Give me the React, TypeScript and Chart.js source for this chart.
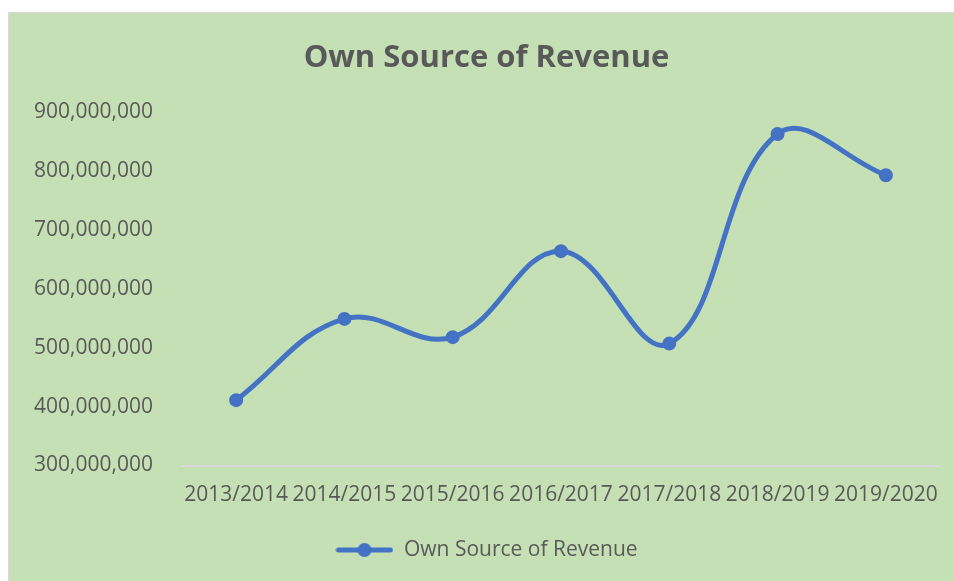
import React, { useEffect, useRef } from "react";
import { Chart, registerables } from "chart.js";

Chart.register(...registerables);

const TITLE = "Own Source of Revenue";
const SERIES_NAME = "Own Source of Revenue";
const CATEGORIES = ["2013/2014", "2014/2015", "2015/2016", "2016/2017", "2017/2018", "2018/2019", "2019/2020"];
const REVENUE = [411000000, 549000000, 518000000, 664000000, 507000000, 863000000, 793000000];
const Y_MIN = 300000000;
const Y_MAX = 900000000;
const Y_STEP = 100000000;

const LINE_COLOR = "#4472C4";
const TEXT_COLOR = "#595959";
const BG = "#C5E0B4";
const FONT = "'Open Sans', 'DejaVu Sans', sans-serif";

function makeLegendIcon(): HTMLCanvasElement {
  const c = document.createElement("canvas");
  c.width = 58;
  c.height = 16;
  const ctx = c.getContext("2d")!;
  ctx.strokeStyle = LINE_COLOR;
  ctx.lineWidth = 5;
  ctx.lineCap = "round";
  ctx.beginPath();
  ctx.moveTo(3, 8);
  ctx.lineTo(55, 8);
  ctx.stroke();
  ctx.fillStyle = LINE_COLOR;
  ctx.beginPath();
  ctx.arc(29, 8, 7, 0, Math.PI * 2);
  ctx.fill();
  return c;
}

export default function App() {
  const ref = useRef<HTMLCanvasElement | null>(null);

  useEffect(() => {
    if (!ref.current) return;
    const icon = makeLegendIcon();
    const chart = new Chart(ref.current, {
      type: "line",
      data: {
        labels: CATEGORIES,
        datasets: [
          {
            label: SERIES_NAME,
            data: REVENUE,
            borderColor: LINE_COLOR,
            backgroundColor: LINE_COLOR,
            borderWidth: 5,
            tension: 0.4,
            pointRadius: 6,
            pointBorderWidth: 2,
            pointBorderColor: LINE_COLOR,
            pointBackgroundColor: LINE_COLOR,
            pointStyle: "circle",
            borderCapStyle: "round",
          },
        ],
      },
      options: {
        animation: false,
        responsive: false,
        maintainAspectRatio: false,
        layout: { padding: { left: 24, right: 14, top: 0, bottom: 10.5 } },
        plugins: {
          title: {
            display: true,
            text: TITLE,
            color: TEXT_COLOR,
            font: { family: FONT, size: 31, weight: "bold" },
            padding: { top: 27, bottom: 35 },
          },
          legend: {
            display: true,
            position: "bottom",
            labels: {
              color: TEXT_COLOR,
              font: { family: FONT, size: 21 },
              usePointStyle: true,
              pointStyleWidth: 58,
              boxHeight: 16,
              padding: 10,
              generateLabels: () => [
                {
                  text: SERIES_NAME,
                  pointStyle: icon,
                  fillStyle: LINE_COLOR,
                  strokeStyle: LINE_COLOR,
                  lineWidth: 0,
                  hidden: false,
                  datasetIndex: 0,
                  fontColor: TEXT_COLOR,
                },
              ],
            },
          },
          tooltip: { enabled: false },
        },
        scales: {
          x: {
            offset: true,
            grid: { display: false },
            border: { display: true, color: "#D9D9D9", width: 2 },
            ticks: {
              color: TEXT_COLOR,
              font: { family: FONT, size: 21 },
              padding: 9,
              maxRotation: 0,
              autoSkip: false,
            },
            afterFit: (s: any) => {
              s.height = 64;
            },
          },
          y: {
            min: Y_MIN,
            max: Y_MAX,
            grid: { display: false },
            border: { display: false },
            ticks: {
              stepSize: Y_STEP,
              color: TEXT_COLOR,
              font: { family: FONT, size: 21 },
              padding: 21,
              callback: (v: any) => Number(v).toLocaleString("en-US"),
            },
            afterFit: (s: any) => {
              s.width = 149;
            },
          },
        },
      },
    });
    return () => chart.destroy();
  }, []);

  return (
    <div
      style={{
        position: "fixed",
        left: 8,
        top: 12,
        width: 946,
        height: 569,
        background: BG,
        borderTop: "1px solid #D9D9D9",
        borderLeft: "1px solid #D9D9D9",
        boxSizing: "border-box",
      }}
    >
      <canvas ref={ref} width={945} height={568} style={{ display: "block" }} />
    </div>
  );
}
